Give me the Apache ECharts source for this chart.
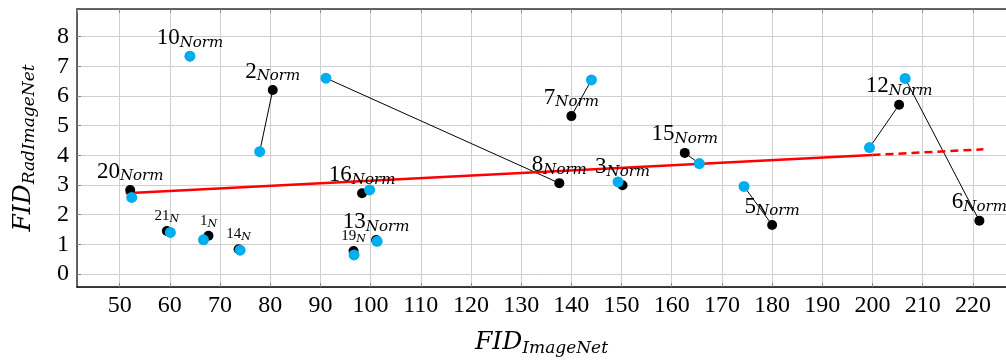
<!DOCTYPE html>
<html>
<head>
<meta charset="utf-8">
<script src="https://cdn.jsdelivr.net/npm/echarts@6/dist/echarts.min.js"></script>
<style>
html,body{margin:0;padding:0;background:#fff;}
#chart{width:1006px;height:362px;}
</style>
</head>
<body>
<div id="chart"></div>
<script>
// model ids
var modelIds = ['1','2','3','5','6','7','8','10','12','13','14','15','16','19','20','21'];
// pretrained (black) points
var fidImageNet = [67.7, 80.5, 150.2, 180.0, 221.3, 140.0, 137.6, 64.0, 205.3, 101.1, 73.7, 162.6, 98.3, 96.6, 52.1, 59.4];
var fidRadImageNet = [1.29, 6.20, 2.99, 1.65, 1.79, 5.32, 3.06, 7.34, 5.70, 1.14, 0.83, 4.08, 2.72, 0.77, 2.83, 1.45];
// normalised (blue) points
var normImageNet = [66.7, 77.9, 149.3, 174.4, 206.5, 144.0, 91.1, 64.0, 199.4, 101.3, 74.0, 165.5, 99.8, 96.7, 52.4, 60.1];
var normRadImageNet = [1.15, 4.12, 3.10, 2.95, 6.59, 6.54, 6.60, 7.34, 4.26, 1.10, 0.80, 3.72, 2.83, 0.64, 2.58, 1.40];
// trend line
var trendX = [51.2, 200.0, 222.1];
var trendY = [2.72, 4.01, 4.20];
// labels written with a short subscript
var shortLabels = ['1','14','19','21'];

var xMin = 41.5, xMax = 226.6;
var yMin = -0.44, yMax = 8.93;

var serif = 'Liberation Serif';
var italic = 'DejaVu Serif';

function tickLabel(v) {
	return Math.abs(v - Math.round(v)) < 1e-6 ? String(Math.round(v)) : '';
}

var chart = echarts.init(document.getElementById('chart'));

var series = [];

// pair connectors
for (var i = 0; i < modelIds.length; i++) {
	series.push({
		type: 'line',
		silent: true,
		symbol: 'none',
		z: 2,
		lineStyle: {color: '#000', width: 1},
		data: [[fidImageNet[i], fidRadImageNet[i]], [normImageNet[i], normRadImageNet[i]]]
	});
}

// regression line, solid then dashed
series.push({
	type: 'line', silent: true, symbol: 'none', z: 2,
	lineStyle: {color: '#ff0000', width: 2.5},
	data: [[trendX[0], trendY[0]], [trendX[1], trendY[1]]]
});
series.push({
	type: 'line', silent: true, symbol: 'none', z: 2,
	lineStyle: {color: '#ff0000', width: 2.5, type: [8, 5]},
	data: [[trendX[1], trendY[1]], [trendX[2], trendY[2]]]
});

var blackData = [];
for (var j = 0; j < modelIds.length; j++) {
	var isShort = shortLabels.indexOf(modelIds[j]) >= 0;
	blackData.push({
		value: [fidImageNet[j], fidRadImageNet[j]],
		label: {
			distance: isShort ? 1.5 : 1,
			formatter: isShort ? '{c|' + modelIds[j] + '}{d|N}' : '{a|' + modelIds[j] + '}{b|Norm}'
		}
	});
}

series.push({
	type: 'scatter',
	symbolSize: 10,
	z: 3,
	itemStyle: {color: '#000', opacity: 1},
	label: {
		show: true,
		position: 'top',
		color: '#000',
		rich: {
			a: {fontFamily: serif, fontSize: 23, color: '#000'},
			b: {fontFamily: italic, fontStyle: 'italic', fontSize: 15, color: '#000', padding: [10, 0, 0, 0]},
			c: {fontFamily: serif, fontSize: 15, color: '#000'},
			d: {fontFamily: italic, fontStyle: 'italic', fontSize: 11, color: '#000', padding: [6, 0, 0, 0]}
		}
	},
	data: blackData
});

var blueData = [];
for (var k = 0; k < modelIds.length; k++) {
	blueData.push([normImageNet[k], normRadImageNet[k]]);
}
series.push({
	type: 'scatter',
	symbolSize: 11,
	z: 4,
	itemStyle: {color: '#00aeef', opacity: 1},
	data: blueData
});

var nameRich = {
	a: {fontFamily: italic, fontStyle: 'italic', fontSize: 25, color: '#000'},
	b: {fontFamily: italic, fontStyle: 'italic', fontSize: 17, color: '#000', padding: [12, 0, 0, 0]}
};

chart.setOption({
	animation: false,
	backgroundColor: '#fff',
	grid: {left: 77, right: 0, top: 9, bottom: 69, containLabel: false},
	xAxis: [{
		type: 'value',
		min: xMin, max: xMax,
		splitNumber: 18,
		name: '{a|FID}{b|ImageNet}',
		nameLocation: 'middle',
		nameGap: 41,
		nameTextStyle: {rich: nameRich},
		axisLine: {show: true, onZero: false, lineStyle: {color: '#000', width: 1.5}},
		axisTick: {show: true, inside: true, length: 4, lineStyle: {color: '#888'}},
		axisLabel: {fontFamily: serif, fontSize: 24, color: '#000', margin: 7, formatter: tickLabel,
			showMinLabel: false, showMaxLabel: false},
		splitLine: {show: true, lineStyle: {color: '#cfcfcf', width: 1}}
	}, {
		type: 'value',
		position: 'top',
		min: xMin, max: xMax,
		splitNumber: 18,
		axisLine: {show: true, onZero: false, lineStyle: {color: '#333', width: 1.5}},
		axisTick: {show: true, inside: true, length: 4, lineStyle: {color: '#888'}},
		axisLabel: {show: false},
		splitLine: {show: false}
	}],
	yAxis: {
		type: 'value',
		min: yMin, max: yMax,
		splitNumber: 9,
		name: '{a|FID}{b|RadImageNet}',
		nameLocation: 'middle',
		nameGap: 39,
		nameTextStyle: {rich: nameRich},
		axisLine: {show: true, onZero: false, lineStyle: {color: '#333', width: 1.5}},
		axisTick: {show: true, inside: true, length: 4, lineStyle: {color: '#888'}},
		axisLabel: {fontFamily: serif, fontSize: 24, color: '#000', margin: 8, formatter: tickLabel,
			showMinLabel: false, showMaxLabel: false},
		splitLine: {show: true, lineStyle: {color: '#cfcfcf', width: 1}}
	},
	series: series
});
</script>
</body>
</html>
